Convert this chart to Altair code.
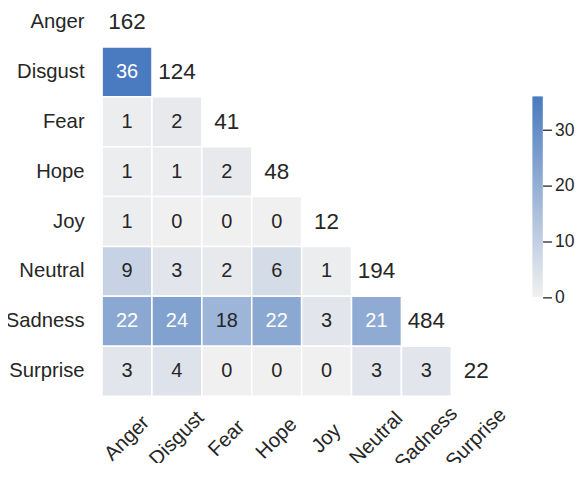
import altair as alt
import pandas as pd
import numpy as np

emotions = ["Anger", "Disgust", "Fear", "Hope", "Joy", "Neutral", "Sadness", "Surprise"]

# lower-triangle counts, one list per row (columns Anger.. up to the cell left of the diagonal)
row_anger = []
row_disgust = [36]
row_fear = [1, 2]
row_hope = [1, 1, 2]
row_joy = [1, 0, 0, 0]
row_neutral = [9, 3, 2, 6, 1]
row_sadness = [22, 24, 18, 22, 3, 21]
row_surprise = [3, 4, 0, 0, 0, 3, 3]
lower_rows = [row_anger, row_disgust, row_fear, row_hope, row_joy,
              row_neutral, row_sadness, row_surprise]

diag_values = [162, 124, 41, 48, 12, 194, 484, 22]

cbar_ticks = [0, 10, 20, 30]
cbar_max = 36

FONT = "Liberation Sans"
DARK = "#262626"
LIGHT_END = "#f0f0f0"
DARK_END = "#4a7abf"

cells = pd.DataFrame(
    [{"row": emotions[i], "col": emotions[j], "value": v}
     for i, r in enumerate(lower_rows) for j, v in enumerate(r)]
)
diag = pd.DataFrame({"row": emotions, "col": emotions, "value": diag_values})

color_scale = alt.Scale(domain=[0, cbar_max], range=[LIGHT_END, DARK_END], interpolate="rgb")

x_enc = alt.X("col:N", sort=emotions,
              scale=alt.Scale(domain=emotions, paddingInner=0, paddingOuter=0),
              axis=alt.Axis(title=None, labelAngle=-45, labelAlign="center",
                            labelBaseline="middle", labelPadding=42,
                            domain=False, ticks=False, grid=False,
                            labelFontSize=20.3, labelFont=FONT, labelColor=DARK))
y_enc = alt.Y("row:N", sort=emotions,
              scale=alt.Scale(domain=emotions, paddingInner=0, paddingOuter=0),
              axis=alt.Axis(title=None, labelPadding=18, domain=False, ticks=False,
                            grid=False, labelFontSize=20.3, labelFont=FONT,
                            labelColor=DARK, labelAlign="right"))

rects = alt.Chart(cells).mark_rect(stroke="white", strokeWidth=1.5).encode(
    x=x_enc, y=y_enc,
    color=alt.Color("value:Q", scale=color_scale, legend=None),
)
labels = alt.Chart(cells).mark_text(fontSize=20, font=FONT).encode(
    x=x_enc, y=y_enc,
    text=alt.Text("value:Q"),
    color=alt.condition(alt.datum.value > 20, alt.value("white"), alt.value(DARK)),
)
diag_text = alt.Chart(diag).mark_text(fontSize=22.5, font=FONT, color=DARK).encode(
    x=x_enc, y=y_enc, text=alt.Text("value:Q"),
)

heat = alt.layer(rects, labels, diag_text).properties(width=400, height=400)

step = 0.25
grad_v = np.round(np.arange(0, cbar_max, step), 3)
grad = pd.DataFrame({"v": grad_v, "v2": np.minimum(np.round(grad_v + 2 * step, 3), cbar_max)})

cbar = alt.Chart(grad).mark_rect(strokeWidth=0).encode(
    y=alt.Y("v:Q", scale=alt.Scale(domain=[0, cbar_max], range=[300.8, 99.8], nice=False),
            axis=alt.Axis(orient="right", values=cbar_ticks, title=None, domain=False,
                          grid=False, tickSize=9, tickWidth=1.3, tickColor=DARK,
                          labelPadding=3, labelFontSize=17.5, labelFont=FONT,
                          labelColor=DARK)),
    y2="v2:Q",
    color=alt.Color("v:Q", scale=color_scale, legend=None),
).properties(width=10, height=400)

chart = alt.hconcat(heat, cbar, spacing=31.5, bounds="flush").properties(
    padding={"left": -2.7, "top": -11.5, "right": 5, "bottom": -12},
    background="white",
).configure_view(strokeWidth=0, stroke="transparent")

chart.save("out.html", embed_options={"renderer": "svg", "actions": False})
